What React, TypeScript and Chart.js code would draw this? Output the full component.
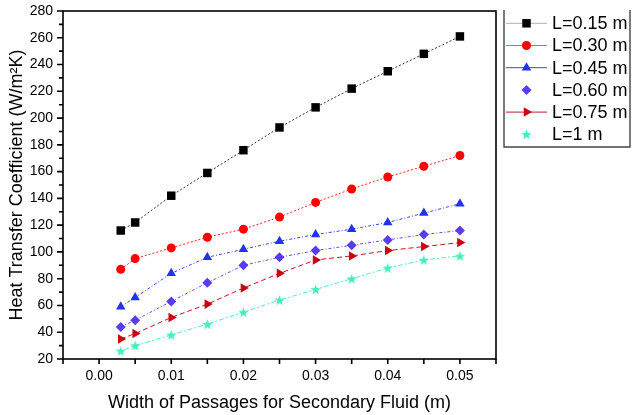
import React, { useEffect, useRef } from 'react';
import { Chart, registerables } from 'chart.js';

Chart.register(...registerables);

// ---- data ----
const xValues = [0.003, 0.005, 0.01, 0.015, 0.02, 0.025, 0.03, 0.035, 0.04, 0.045, 0.05];
const seriesNames = ['L=0.15 m', 'L=0.30 m', 'L=0.45 m', 'L=0.60 m', 'L=0.75 m', 'L=1 m'];
const L015 = [116, 122, 142, 159, 176, 193, 208, 222, 235, 248, 261];
const L030 = [87, 95, 103, 111, 117, 126, 137, 147, 156, 164, 172];
const L045 = [59, 66, 84, 96, 102, 108, 113, 117, 122, 129, 136];
const L060 = [44, 49, 63, 77, 90, 96, 101, 105, 109, 113, 116];
const L075 = [35, 39, 51, 61, 73, 84, 94, 97, 101, 104, 107];
const L100 = [26, 30, 38, 46, 55, 64, 72, 80, 88, 94, 97];
const seriesValues = [L015, L030, L045, L060, L075, L100];

const yTickValues = [20, 40, 60, 80, 100, 120, 140, 160, 180, 200, 220, 240, 260, 280];
const xTickValues = [0, 0.01, 0.02, 0.03, 0.04, 0.05];
const xTitle = 'Width of Passages for Secondary Fluid (m)';
const yTitle = 'Heat Transfer Coefficient (W/m\u00B2K)';

// ---- styles ----
const FONT = '"Liberation Sans", Arial, Helvetica, sans-serif';
const markerColors = ['#000000', '#ff0000', '#2233ee', '#5a3cf0', '#cc0011', '#44eebb'];
const lineColors = ['#333333', '#ff2222', '#3344ee', '#6a4cf0', '#cc1122', '#55eebb'];
const legendLineColors = ['#b0b0b0', '#ff5577', '#3344ee', null, '#bb2233', null];
const dashes = [[2, 2], [2, 2], [3, 2, 1, 2], [3, 2, 1, 2], [5, 3], [2, 2, 5, 2]];
const pointStyles = ['rect', 'circle', 'triangle', 'rectRot', 'triangle', 'star'];
const pointRotations = [0, 0, 0, 0, 90, 0];
const pointRadii = [6, 4.5, 5.5, 5, 5.5, 5];

function makeStar(color: string, size: number): HTMLCanvasElement {
  const c = document.createElement('canvas');
  c.width = size;
  c.height = size;
  const g = c.getContext('2d')!;
  const cx = size / 2, cy = size / 2 + 0.5;
  const ro = size / 2, ri = ro * 0.42;
  g.beginPath();
  for (let i = 0; i < 10; i++) {
    const r = i % 2 === 0 ? ro : ri;
    const a = -Math.PI / 2 + (i * Math.PI) / 5;
    const px = cx + r * Math.cos(a), py = cy + r * Math.sin(a);
    if (i === 0) g.moveTo(px, py); else g.lineTo(px, py);
  }
  g.closePath();
  g.fillStyle = color;
  g.fill();
  return c;
}

function drawMarker(ctx: CanvasRenderingContext2D, i: number, x: number, y: number, star: HTMLCanvasElement) {
  const style = pointStyles[i];
  const r = pointRadii[i];
  ctx.fillStyle = markerColors[i];
  ctx.beginPath();
  if (style === 'rect') {
    const s = Math.SQRT1_2 * r;
    ctx.rect(x - s, y - s, 2 * s, 2 * s);
  } else if (style === 'circle') {
    ctx.arc(x, y, r, 0, Math.PI * 2);
  } else if (style === 'triangle') {
    const rot = (pointRotations[i] * Math.PI) / 180;
    for (let k = 0; k < 3; k++) {
      const a = -Math.PI / 2 + rot + (k * 2 * Math.PI) / 3;
      const px = x + r * Math.cos(a), py = y + r * Math.sin(a);
      if (k === 0) ctx.moveTo(px, py); else ctx.lineTo(px, py);
    }
    ctx.closePath();
  } else if (style === 'rectRot') {
    ctx.moveTo(x - r, y);
    ctx.lineTo(x, y - r);
    ctx.lineTo(x + r, y);
    ctx.lineTo(x, y + r);
    ctx.closePath();
  } else {
    ctx.drawImage(star, x - star.width / 2, y - star.height / 2);
    return;
  }
  ctx.fill();
}

export default function App() {
  const canvasRef = useRef<HTMLCanvasElement | null>(null);

  useEffect(() => {
    document.body.style.margin = '0';
    const canvas = canvasRef.current;
    if (!canvas) return;
    const star = makeStar(markerColors[5], 11);

    const framePlugin = {
      id: 'frameTicks',
      afterDraw(chart: any) {
        const { ctx, chartArea: a, scales } = chart;
        const xs = scales.x, ys = scales.y;
        ctx.save();
        ctx.strokeStyle = '#000';
        ctx.lineWidth = 1.6;
        ctx.setLineDash([]);
        ctx.strokeRect(a.left, a.top, a.right - a.left, a.bottom - a.top);
        ctx.beginPath();
        yTickValues.forEach((v, i) => {
          const py = ys.getPixelForValue(v);
          ctx.moveTo(a.left - 6, py);
          ctx.lineTo(a.left, py);
          if (i < yTickValues.length - 1) {
            const pm = ys.getPixelForValue((v + yTickValues[i + 1]) / 2);
            ctx.moveTo(a.left - 4, pm);
            ctx.lineTo(a.left, pm);
          }
        });
        const step = xTickValues[1] - xTickValues[0];
        const xt: number[] = [xTickValues[0] - step / 2];
        xTickValues.forEach((v) => { xt.push(v); xt.push(v + step / 2); });
        xt.forEach((v) => {
          const px = xs.getPixelForValue(v);
          ctx.moveTo(px, a.bottom);
          ctx.lineTo(px, a.bottom + 5);
        });
        ctx.stroke();

        // legend
        const lx = 504, lr = 630, lt = 10, lb = 147;
        ctx.strokeStyle = '#444';
        ctx.lineWidth = 1.4;
        ctx.beginPath();
        ctx.moveTo(lx, lt);
        ctx.lineTo(lx, lb);
        ctx.lineTo(lr, lb);
        ctx.lineTo(lr, lt);
        ctx.stroke();
        ctx.font = `18px ${FONT}`;
        ctx.textBaseline = 'middle';
        ctx.textAlign = 'left';
        seriesNames.forEach((name, i) => {
          const cy = 23.3 + i * 22.2;
          const lc = legendLineColors[i];
          if (lc) {
            ctx.strokeStyle = lc;
            ctx.lineWidth = 1;
            ctx.beginPath();
            ctx.moveTo(506, cy);
            ctx.lineTo(547, cy);
            ctx.stroke();
          }
          drawMarker(ctx, i, 526.5, cy, star);
          ctx.fillStyle = '#000';
          ctx.fillText(name, 552, cy + 1);
        });
        ctx.restore();
      },
    };

    const datasets = seriesNames.map((name, i) => ({
      label: name,
      data: xValues.map((x, k) => ({ x, y: seriesValues[i][k] })),
      borderColor: lineColors[i],
      borderWidth: 1,
      borderDash: dashes[i],
      backgroundColor: markerColors[i],
      pointBackgroundColor: markerColors[i],
      pointBorderColor: markerColors[i],
      pointBorderWidth: 0,
      pointStyle: pointStyles[i] === 'star' ? star : pointStyles[i],
      pointRotation: pointRotations[i],
      pointRadius: pointRadii[i],
      fill: false,
      tension: 0,
    }));

    const chart = new Chart(canvas, {
      type: 'line',
      data: { datasets: datasets as any },
      plugins: [framePlugin],
      options: {
        animation: false,
        responsive: true,
        maintainAspectRatio: false,
        layout: { padding: { top: 11, right: 144, left: 0, bottom: 0 } },
        plugins: { legend: { display: false }, tooltip: { enabled: false } },
        scales: {
          x: {
            type: 'linear',
            min: -0.005,
            max: 0.055,
            afterFit: (s: any) => { s.height = 56; s.paddingLeft = 0; s.paddingRight = 0; },
            afterBuildTicks: (s: any) => { s.ticks = xTickValues.map((v) => ({ value: v })); },
            grid: { display: false, drawTicks: false },
            border: { display: false },
            ticks: {
              padding: 9,
              color: '#000',
              font: { family: FONT, size: 14 },
              callback: (v: any) => Number(v).toFixed(2),
            },
            title: {
              display: true,
              text: xTitle,
              color: '#000',
              font: { family: FONT, size: 18 },
              padding: { top: 0, bottom: 1.5 },
            },
          },
          y: {
            type: 'linear',
            min: 20,
            max: 280,
            afterFit: (s: any) => { s.width = 63; s.paddingTop = 0; s.paddingBottom = 0; },
            afterBuildTicks: (s: any) => { s.ticks = yTickValues.map((v) => ({ value: v })); },
            grid: { display: false, drawTicks: false },
            border: { display: false },
            ticks: {
              padding: 10,
              color: '#000',
              font: { family: FONT, size: 14 },
              callback: (v: any) => String(v),
            },
            title: {
              display: true,
              text: yTitle,
              color: '#000',
              font: { family: FONT, size: 18 },
              padding: { top: 6, bottom: 0 },
            },
          },
        },
      },
    });
    return () => chart.destroy();
  }, []);

  return (
    <div style={{ position: 'relative', width: 640, height: 415, background: '#fff' }}>
      <canvas ref={canvasRef} />
    </div>
  );
}
